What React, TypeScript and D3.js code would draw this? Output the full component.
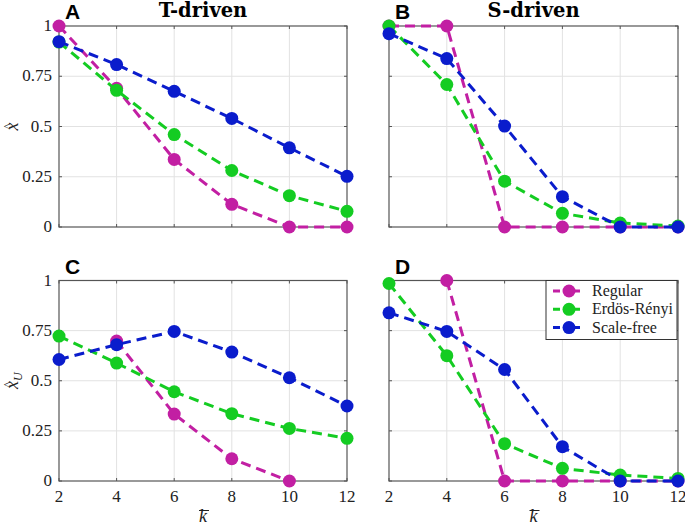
import React from 'react';
import * as d3 from 'd3';

const kValues = [2, 4, 6, 8, 10, 12];
const yTicks = [0, 0.25, 0.5, 0.75, 1];
const yTickLabels = ['0', '0.25', '0.5', '0.75', '1'];
const seriesNames = ['Regular', 'Erdös-Rényi', 'Scale-free'];
const seriesColors = ['#c21fa3', '#14cc22', '#0a1ccc'];

// T-driven, x hat
const tRegular = [1.0, 0.69, 0.336, 0.113, 0.0, 0.0];
const tER = [0.92, 0.68, 0.46, 0.281, 0.156, 0.078];
const tSF = [0.922, 0.808, 0.675, 0.54, 0.394, 0.252];

// S-driven, x hat
const sRegular = [1.0, 1.0, 0.0, 0.0, 0.0, 0.0];
const sER = [1.0, 0.709, 0.228, 0.068, 0.02, 0.005];
const sSF = [0.962, 0.838, 0.502, 0.151, 0.0, 0.0];

// T-driven, x hat U
const tuRegular = [null, 0.698, 0.334, 0.111, 0.0, null];
const tuER = [0.723, 0.588, 0.445, 0.336, 0.262, 0.213];
const tuSF = [0.606, 0.68, 0.746, 0.643, 0.515, 0.374];

// S-driven, x hat U
const suRegular = [null, 1.0, 0.0, 0.0, 0.0, 0.0];
const suER = [0.985, 0.625, 0.186, 0.063, 0.03, 0.013];
const suSF = [0.839, 0.746, 0.556, 0.171, 0.0, 0.0];

const serifFont = 'Liberation Serif, Times New Roman, Times, DejaVu Serif, serif';
const titleFont = 'DejaVu Serif, Liberation Serif, serif';
const sansFont = 'Liberation Sans, Arial, Helvetica, sans-serif';

type Panel = {
  letter: string;
  title?: string;
  left: number;
  right: number;
  top: number;
  bottom: number;
  series: (number | null)[][];
  yLabels: boolean;
  xLabels: boolean;
  ylab?: 'x' | 'xu';
  legend?: boolean;
};

const panels: Panel[] = [
  { letter: 'A', title: 'T-driven', left: 59, right: 347, top: 26, bottom: 227, series: [tRegular, tER, tSF], yLabels: true, xLabels: false, ylab: 'x' },
  { letter: 'B', title: 'S-driven', left: 389, right: 678, top: 26, bottom: 227, series: [sRegular, sER, sSF], yLabels: false, xLabels: false },
  { letter: 'C', left: 59, right: 347, top: 280.5, bottom: 481, series: [tuRegular, tuER, tuSF], yLabels: true, xLabels: true, ylab: 'xu' },
  { letter: 'D', left: 389, right: 678, top: 280.5, bottom: 481, series: [suRegular, suER, suSF], yLabels: false, xLabels: true, legend: true },
];

const axisColor = '#555';
const gridColor = '#e2e2e2';
const textColor = '#222';

function PanelView({ p }: { p: Panel }) {
  const x = d3.scaleLinear().domain([2, 12]).range([p.left, p.right]);
  const y = d3.scaleLinear().domain([0, 1]).range([p.bottom, p.top]);
  const line = d3
    .line<[number, number | null]>()
    .defined((d) => d[1] !== null)
    .x((d) => x(d[0]))
    .y((d) => y(d[1] as number));
  const cx = (p.left + p.right) / 2;
  const cy = (p.top + p.bottom) / 2;
  return (
    <g>
      {/* grid */}
      {kValues.slice(1, -1).map((k) => (
        <line key={'gx' + k} x1={x(k)} x2={x(k)} y1={p.top} y2={p.bottom} stroke={gridColor} strokeWidth={1} />
      ))}
      {yTicks.slice(1, -1).map((t) => (
        <line key={'gy' + t} x1={p.left} x2={p.right} y1={y(t)} y2={y(t)} stroke={gridColor} strokeWidth={1} />
      ))}
      {/* box */}
      <rect x={p.left} y={p.top} width={p.right - p.left} height={p.bottom - p.top} fill="none" stroke={axisColor} strokeWidth={1.2} />
      {/* ticks inside */}
      {kValues.map((k) => (
        <g key={'tx' + k}>
          <line x1={x(k)} x2={x(k)} y1={p.bottom} y2={p.bottom - 3} stroke={axisColor} />
          <line x1={x(k)} x2={x(k)} y1={p.top} y2={p.top + 3} stroke={axisColor} />
        </g>
      ))}
      {yTicks.map((t) => (
        <g key={'ty' + t}>
          <line x1={p.left} x2={p.left + 3} y1={y(t)} y2={y(t)} stroke={axisColor} />
          <line x1={p.right} x2={p.right - 3} y1={y(t)} y2={y(t)} stroke={axisColor} />
        </g>
      ))}
      {p.yLabels &&
        yTicks.map((t, i) => (
          <text key={'yl' + t} x={p.left - 7} y={y(t) + 5} textAnchor="end" fontFamily={serifFont} fontSize={17} fill={textColor}>
            {yTickLabels[i]}
          </text>
        ))}
      {p.xLabels &&
        kValues.map((k) => (
          <text key={'xl' + k} x={x(k)} y={502} textAnchor="middle" fontFamily={serifFont} fontSize={17} fill={textColor}>
            {k}
          </text>
        ))}
      {p.xLabels && (
        <g>
          <line x1={cx - 4} x2={cx + 6} y1={510.5} y2={510.5} stroke={textColor} strokeWidth={1} />
          <text x={cx} y={522} textAnchor="middle" fontFamily={serifFont} fontStyle="italic" fontSize={18} fill={textColor}>
            k
          </text>
        </g>
      )}
      {p.ylab && (
        <g transform={`translate(18,${cy}) rotate(-90)`}>
          <text x={0} y={0} textAnchor="middle" fontFamily={serifFont} fontStyle="italic" fontSize={18} fill={textColor}>
            x
            {p.ylab === 'xu' && (
              <tspan fontSize={12} dy={4}>
                U
              </tspan>
            )}
          </text>
          <text x={p.ylab === 'xu' ? -4 : 0} y={-6} textAnchor="middle" fontFamily={serifFont} fontSize={13} fill={textColor}>
            ^
          </text>
        </g>
      )}
      {/* panel letter and title */}
      <text x={p.left + 6} y={p.top - 7} fontFamily={sansFont} fontWeight="bold" fontSize={21} fill="#000">
        {p.letter}
      </text>
      {p.title && (
        <text x={cx} y={p.top - 9} textAnchor="middle" fontFamily={titleFont} fontWeight="bold" fontSize={19.5} fill="#000">
          {p.title}
        </text>
      )}
      {/* series */}
      {p.series.map((vals, si) => {
        const pts = kValues.map((k, i) => [k, vals[i]] as [number, number | null]);
        return (
          <g key={'s' + si}>
            <path d={line(pts) || ''} fill="none" stroke={seriesColors[si]} strokeWidth={3} strokeDasharray="10,6" />
            {pts
              .filter((d) => d[1] !== null)
              .map((d) => (
                <circle key={d[0]} cx={x(d[0])} cy={y(d[1] as number)} r={6.5} fill={seriesColors[si]} />
              ))}
          </g>
        );
      })}
      {p.legend && (
        <g>
          <rect x={546} y={p.top} width={131} height={59} fill="#fff" stroke="#333" strokeWidth={1} />
          {seriesNames.map((name, i) => {
            const ly = p.top + 10.5 + i * 18.3;
            return (
              <g key={name}>
                <line x1={553} x2={582} y1={ly} y2={ly} stroke={seriesColors[i]} strokeWidth={3} strokeDasharray="7,3" />
                <circle cx={569} cy={ly} r={6.5} fill={seriesColors[i]} />
                <text x={592} y={ly + 5} fontFamily={serifFont} fontSize={16} fill={textColor}>
                  {name}
                </text>
              </g>
            );
          })}
        </g>
      )}
    </g>
  );
}

export default function App() {
  return (
    <svg width={685} height={526} style={{ position: 'absolute', left: 0, top: 0, background: '#fff' }}>
      <rect width={685} height={526} fill="#fff" />
      {panels.map((p) => (
        <PanelView key={p.letter} p={p} />
      ))}
    </svg>
  );
}
